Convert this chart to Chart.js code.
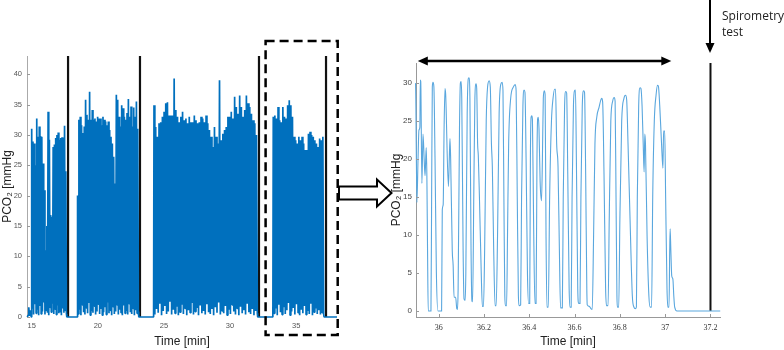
<!DOCTYPE html>
<html><head><meta charset="utf-8">
<script src="https://cdn.jsdelivr.net/npm/chart.js@4.4.1/dist/chart.umd.min.js"></script>
<style>
html,body{margin:0;padding:0;background:#fff;width:784px;height:350px;overflow:hidden;position:relative}
#c1{position:absolute;left:0;top:0;width:340px;height:350px}
#c2{position:absolute;left:338px;top:0;width:446px;height:350px}
#arrow{position:absolute;left:0;top:0;pointer-events:none}
#spiro{position:absolute;left:722px;top:8px;font-family:'Open Sans';font-size:12px;line-height:16px;color:#222;white-space:nowrap}
</style></head><body>
<canvas id="c1" width="340" height="350"></canvas>
<canvas id="c2" width="446" height="350"></canvas>
<svg id="arrow" width="784" height="350"><polygon points="339,186.5 377,186.5 377,179.5 391.5,193 377,206.5 377,199.5 339,199.5" fill="#fff" stroke="#000" stroke-width="2"/></svg>
<div id="spiro">Spirometry<br>test</div>
<script>
// ---------- LEFT PANEL DATA (whole session, minutes / mmHg) ----------
const leadTimes  = [14.66, 14.74, 14.78, 14.83, 14.88, 14.93];
const leadValues = [0, 0.3, 1.6, 0.2, 1.1, 0.4];

const segAPeaks   = [31, 28.9, 28.6, 25, 32.7, 29.7, 31.4, 29.8, 29.7, 25.3, 20.9, 11, 15, 33.8, 29.2, 16.8, 16.5, 28, 28.4, 29.5, 30, 30.4, 29.2, 29.5, 29.6, 29.5, 31.5, 24];
const segATroughs = [1.5, 0.4, 2.1, 0.6, 1.2, 0.3, 1.8, 0.5, 0.9, 2.4, 0.4, 1.1, 0.7, 0.3, 1.6, 0.8, 2.2, 0.5, 1.3, 0.4, 1.9, 0.6, 0.9, 0.3, 1.4, 0.7, 1.1, 0.5];

const segBPeaks   = [20, 32.5, 33, 31.6, 30.3, 31.4, 35.8, 33.3, 32.5, 37.1, 32.5, 34.1, 32.5, 32.7, 32.2, 33, 32.7, 32.7, 31.6, 33, 32.5, 32.2, 31.6, 32.2, 30.8, 29.7, 28.6, 26.4, 22, 36.6, 35.8, 33, 31.4, 34.9, 34.4, 33, 32.5, 33.6, 35.9, 33, 34.7, 31.4, 34.5, 33, 35.5, 31];
const segBTroughs = [0.5, 1.2, 0.3, 2.0, 0.8, 0.4, 1.5, 0.6, 2.3, 0.3, 1.0, 0.7, 1.8, 0.4, 0.9, 2.1, 0.5, 1.3, 0.3, 0.8, 1.6, 0.4, 2.4, 0.6, 1.1, 0.3, 1.7, 0.5, 0.9, 2.0, 0.4, 1.2, 0.7, 0.3, 1.9, 0.6, 1.0, 0.4, 2.2, 0.8, 0.5, 1.4, 0.3, 1.1, 0.6, 0.9];

const segCPeaks   = [34.9, 31.3, 29.7, 31.9, 32.1, 33, 33.8, 35.2, 35.4, 33.2, 33.2, 33.2, 39.3, 34.1, 33, 32.1, 33, 33.8, 32.4, 32.7, 31.9, 33, 32.1, 32.1, 33.2, 32.4, 31.9, 32.1, 33, 32.7, 32.1, 33.2, 31.9, 30.8, 29.7, 28, 31.3, 29.7, 28.6, 39, 29.1, 30.2, 30.8, 31.3, 33, 33, 33.8, 32.7, 36.3, 34.6, 33.5, 36.5, 34.6, 33, 34.1, 36.5, 35.2, 34.6, 33.5, 32.4, 31.9, 30];
const segCTroughs = [0.4, 1.3, 0.7, 2.2, 0.3, 1.0, 1.8, 0.5, 0.9, 2.5, 0.4, 1.2, 0.6, 1.7, 0.3, 0.8, 2.0, 0.5, 1.4, 0.3, 1.1, 0.7, 2.3, 0.4, 0.9, 1.5, 0.3, 1.9, 0.6, 1.0, 0.4, 2.1, 0.8, 0.5, 1.3, 0.3, 1.6, 0.7, 2.4, 0.4, 1.0, 0.6, 1.8, 0.3, 1.2, 0.5, 2.0, 0.9, 0.4, 1.4, 0.3, 1.7, 0.6, 1.1, 0.4, 2.2, 0.8, 0.5, 1.3, 0.3, 1.0, 0.6];

const segDPeaks   = [33, 33.2, 32.7, 34.6, 32.4, 32.1, 34.6, 33, 32.7, 34.9, 35.7, 34.9, 33, 29.7, 29.1, 28.6, 29.7, 29.1, 29.7, 28.6, 27.5, 27.5, 30.2, 30.5, 30, 29.7, 29.1, 28.6, 28, 29.4, 29.1, 29.7];
const segDTroughs = [0.6, 1.4, 0.3, 2.0, 0.8, 0.4, 1.6, 0.5, 1.1, 2.3, 0.3, 0.9, 1.5, 0.4, 2.1, 0.7, 0.3, 1.2, 0.6, 1.8, 0.4, 1.0, 0.5, 2.2, 0.3, 0.8, 1.4, 0.5, 1.1, 0.4, 0.7, 0.5];

const segStarts = [15.0, 18.47, 24.25, 33.27];
const segEnds   = [17.58, 23.02, 32.0, 37.02];
const markerTimesLeft = [17.75, 23.19, 32.19, 37.26];
const leftXTicks = [15, 20, 25, 30, 35];

// ---------- RIGHT PANEL DATA (zoom on last minute) ----------
const rightTimes = [35.898,35.901,35.904,35.909,35.913,35.917,35.919,35.921,35.926,35.931,35.936,35.940,35.945,35.948,35.951,35.954,35.966,35.969,35.972,35.975,35.979,35.984,35.990,35.997,36.013,36.016,36.020,36.024,36.028,36.031,36.043,36.047,36.050,36.053,36.060,36.064,36.068,36.075,36.080,36.083,36.086,36.092,36.096,36.099,36.102,36.108,36.112,36.117,36.120,36.126,36.131,36.134,36.138,36.143,36.147,36.150,36.155,36.160,36.165,36.168,36.172,36.175,36.180,36.188,36.193,36.198,36.203,36.210,36.216,36.223,36.228,36.233,36.237,36.243,36.249,36.254,36.260,36.267,36.274,36.280,36.284,36.288,36.292,36.295,36.300,36.304,36.309,36.318,36.330,36.338,36.342,36.347,36.352,36.355,36.362,36.366,36.372,36.377,36.381,36.386,36.392,36.397,36.402,36.405,36.408,36.411,36.414,36.419,36.425,36.430,36.434,36.437,36.440,36.443,36.448,36.454,36.458,36.462,36.466,36.470,36.474,36.478,36.484,36.490,36.498,36.505,36.512,36.516,36.521,36.527,36.533,36.538,36.546,36.550,36.556,36.561,36.565,36.570,36.576,36.580,36.585,36.589,36.595,36.600,36.604,36.608,36.614,36.618,36.624,36.628,36.634,36.640,36.644,36.649,36.654,36.656,36.665,36.672,36.678,36.684,36.690,36.698,36.708,36.716,36.720,36.724,36.730,36.737,36.741,36.748,36.753,36.760,36.768,36.775,36.779,36.783,36.787,36.789,36.795,36.800,36.808,36.818,36.825,36.830,36.836,36.845,36.855,36.862,36.868,36.873,36.877,36.883,36.889,36.893,36.898,36.903,36.907,36.910,36.913,36.920,36.928,36.934,36.940,36.945,36.952,36.960,36.966,36.970,36.976,36.984,36.990,36.993,36.998,37.002,37.008,37.012,37.017,37.020,37.022,37.025,37.029,37.034,37.038,37.042,37.052,37.243];
const rightValues = [30.0,22,14.3,20,23.8,24.2,30.4,30.2,16.8,23.3,20,17.8,21.5,17.8,8,0,0,15,29.5,30.1,29.5,20,5,0,0,13.3,14,24,29.3,28.5,16.4,20,22.7,20,8,6,1.8,1.8,0.3,0.2,3,24,30,30.2,28,8,1.6,1.4,5,26,30.6,30.7,28,8,1.3,1.2,15,28,29.9,29.3,22,20.5,15,5,0.6,0.6,8,25,29.5,30.3,29.5,22,19,8,0.7,0.7,10,26,29.8,30.1,29,15,2,0.7,0.7,10,22,28,29.5,29.8,29,15,2,0.7,0.8,15,27,29.1,28.8,20,5,1,1,20,25.5,25.7,25.2,12,1,1,20,25.3,25.5,24,17,14.5,20,28,29,28.5,10,0.5,0.5,15,25,28,29.2,29.2,22,19,8,0.4,0.4,15,27,28.9,28.7,18,3,0.5,0.5,15,27,29,29.1,20,3,1,1,15,27,29,28.8,18,3,0.8,0.6,0.3,0.2,10,22,25.5,26.8,27.8,28,27.5,18,3,0.7,0.7,12,25,27.6,28.1,27.6,15,2,0.5,0.5,12,25,28,28.4,27.8,22,12,2,0.5,0.3,0.5,15,27,29.4,29.3,27,22,18.3,23.3,22,10,2,0.5,0.5,15,25,28.5,29.7,29.6,27,22,18.8,23.7,23.7,15,3,0.5,0.5,8,10.8,8,4.6,4.2,2,0.5,0,0];
const spiroTime = 37.2;
const rightXTicks = [36, 36.2, 36.4, 36.6, 36.8, 37, 37.2];

// ---------- build left series ----------
const leftPts = [];
for (let i = 0; i < leadTimes.length; i++) leftPts.push({x: leadTimes[i], y: leadValues[i]});
const segP = [segAPeaks, segBPeaks, segCPeaks, segDPeaks];
const segT = [segATroughs, segBTroughs, segCTroughs, segDTroughs];
for (let s = 0; s < 4; s++) {
  const n = segP[s].length, step = (segEnds[s] - segStarts[s]) / (n - 1);
  leftPts.push({x: segStarts[s] - 0.03, y: 0});
  for (let i = 0; i < n; i++) {
    const t = segStarts[s] + i * step;
    leftPts.push({x: t, y: segP[s][i]});
    leftPts.push({x: t + step / 2, y: segT[s][i]});
  }
  leftPts.push({x: segEnds[s] + step / 2 + 0.03, y: 0});
}
leftPts.push({x: 38.09, y: 0});

const rightPts = rightTimes.map((t, i) => ({x: t, y: rightValues[i]}));

const fmt = v => String(+(+v).toFixed(2));

const inTicks = {
  id: 'inTicks',
  afterDraw(chart, args, opts) {
    const ctx = chart.ctx, a = chart.chartArea, {x, y} = chart.scales;
    ctx.save(); ctx.strokeStyle = opts.color || '#888'; ctx.lineWidth = 1;
    if (opts.y) y.ticks.forEach(t => { const p = Math.round(y.getPixelForValue(t.value)) + 0.5; ctx.beginPath(); ctx.moveTo(a.left, p); ctx.lineTo(a.left + 3, p); ctx.stroke(); });
    if (opts.x) x.ticks.forEach(t => { const p = Math.round(x.getPixelForValue(t.value)) + 0.5; ctx.beginPath(); ctx.moveTo(p, a.bottom); ctx.lineTo(p, a.bottom - 3); ctx.stroke(); });
    ctx.restore();
  }
};

const leftDecor = {
  id: 'leftDecor',
  afterDraw(chart) {
    const ctx = chart.ctx, xs = chart.scales.x, a = chart.chartArea;
    const l = xs.getPixelForValue(32.69), r = a.right + 0.7;
    ctx.save(); ctx.strokeStyle = '#000'; ctx.lineWidth = 2.5; ctx.setLineDash([9, 5]);
    ctx.strokeRect(l, 41, r - l, 335 - 41);
    ctx.restore();
  }
};

const rightDecor = {
  id: 'rightDecor',
  afterDraw(chart) {
    const ctx = chart.ctx, xs = chart.scales.x, a = chart.chartArea;
    ctx.save(); ctx.fillStyle = '#000'; ctx.strokeStyle = '#000';
    const x1 = xs.getPixelForValue(35.908), x2 = xs.getPixelForValue(37.027), yy = a.top - 2;
    ctx.lineWidth = 2.6; ctx.beginPath(); ctx.moveTo(x1 + 8, yy); ctx.lineTo(x2 - 8, yy); ctx.stroke();
    ctx.beginPath(); ctx.moveTo(x1, yy); ctx.lineTo(x1 + 10, yy - 4.5); ctx.lineTo(x1 + 10, yy + 4.5); ctx.closePath(); ctx.fill();
    ctx.beginPath(); ctx.moveTo(x2, yy); ctx.lineTo(x2 - 10, yy - 4.5); ctx.lineTo(x2 - 10, yy + 4.5); ctx.closePath(); ctx.fill();
    const xs2 = Math.round(xs.getPixelForValue(spiroTime));
    ctx.lineWidth = 2; ctx.beginPath(); ctx.moveTo(xs2, 0); ctx.lineTo(xs2, 45); ctx.stroke();
    ctx.beginPath(); ctx.moveTo(xs2 - 4.5, 43); ctx.lineTo(xs2 + 4.5, 43); ctx.lineTo(xs2, 53); ctx.closePath(); ctx.fill();
    ctx.restore();
  }
};

Chart.defaults.font.family = 'Liberation Sans';

new Chart(document.getElementById('c1'), {
  type: 'line',
  data: {datasets: [
    {data: leftPts, borderColor: '#0070BE', borderWidth: 1.7, borderJoinStyle: 'bevel', pointRadius: 0, tension: 0, clip: 4},
    ...markerTimesLeft.map(t => ({data: [{x: t, y: 0}, {x: t, y: 43}], borderColor: '#111', borderWidth: 2.2, pointRadius: 0, clip: 4}))
  ]},
  options: {
    responsive: false, animation: false, events: [],
    layout: {padding: {top: 56, right: 3, left: 0, bottom: 0}},
    plugins: {legend: {display: false}, tooltip: {enabled: false}, inTicks: {y: true, color: '#999'}},
    scales: {
      x: {type: 'linear', min: 14.645, max: 38.09,
        afterBuildTicks: s => { s.ticks = leftXTicks.map(v => ({value: v})); },
        ticks: {font: {size: 7.5}, color: '#555', padding: 4, maxRotation: 0, autoSkip: false, callback: fmt},
        grid: {display: false, drawTicks: false}, border: {display: false},
        title: {display: true, text: 'Time [min]', font: {size: 12}, color: '#222', padding: {top: 0, bottom: 1.5}},
        afterFit(s) { s.height = 33; }},
      y: {min: 0, max: 43,
        ticks: {stepSize: 5, includeBounds: false, font: {size: 7.5}, color: '#555', padding: 5},
        grid: {display: false, drawTicks: false}, border: {display: true, color: '#aaa', width: 1},
        title: {display: true, text: 'PCO\u2082 [mmHg', font: {size: 12}, color: '#222', padding: {top: 0, bottom: 0}},
        afterFit(s) { s.width = 27; }}
    }
  },
  plugins: [inTicks, leftDecor]
});

new Chart(document.getElementById('c2'), {
  type: 'line',
  data: {datasets: [
    {data: rightPts, borderColor: '#5AA7DE', borderWidth: 1.1, pointRadius: 0, cubicInterpolationMode: 'monotone', clip: 4},
    {data: [{x: spiroTime, y: 0}, {x: spiroTime, y: 32.65}], borderColor: '#111', borderWidth: 2, pointRadius: 0}
  ]},
  options: {
    responsive: false, animation: false, events: [],
    layout: {padding: {top: 63, right: 64, left: 0, bottom: 0}},
    plugins: {legend: {display: false}, tooltip: {enabled: false}, inTicks: {x: true, y: true, color: '#999'}},
    scales: {
      x: {type: 'linear', min: 35.9, max: 37.242,
        afterBuildTicks: s => { s.ticks = rightXTicks.map(v => ({value: v})); },
        ticks: {font: {family: 'Liberation Serif', size: 8}, color: '#333', padding: 6, maxRotation: 0, autoSkip: false, callback: fmt},
        grid: {display: false, drawTicks: false}, border: {display: true, color: '#999', width: 1},
        title: {display: true, text: 'Time [min]', font: {size: 12}, color: '#222', padding: {top: 0, bottom: 1}},
        afterFit(s) { s.height = 33; }},
      y: {min: -0.8, max: 32.65,
        ticks: {stepSize: 5, includeBounds: false, font: {size: 8}, color: '#444', padding: 4},
        grid: {display: false, drawTicks: false}, border: {display: true, color: '#999', width: 1},
        title: {display: true, text: 'PCO\u2082 [mmHg', font: {size: 12}, color: '#222', padding: {top: 51, bottom: 0}},
        afterFit(s) { s.width = 78; }}
    }
  },
  plugins: [inTicks, rightDecor]
});
</script>
</body></html>
